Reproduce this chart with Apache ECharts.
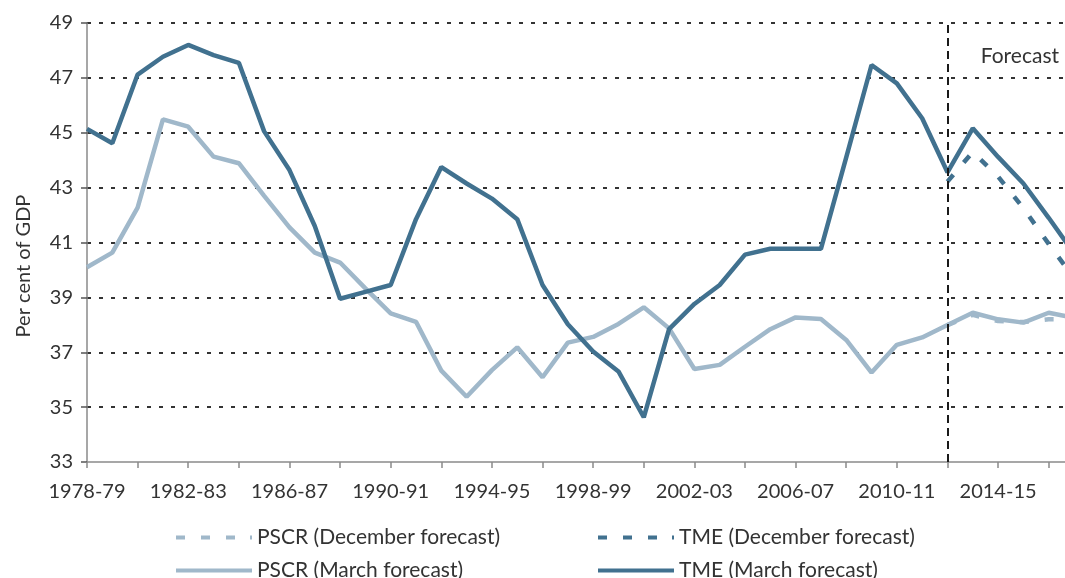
<!DOCTYPE html>
<html>
<head>
<meta charset="utf-8">
<title>Public sector current receipts and total managed expenditure</title>
<script src="https://cdn.jsdelivr.net/npm/echarts@6/dist/echarts.min.js"></script>
<style>
  html, body { margin: 0; padding: 0; background: #fff; overflow: hidden; }
  /* the axis runs one year past the visible right edge */
  #chart { width: 1074px; height: 578px; }
</style>
</head>
<body>
<div id="chart"></div>
<script>
// Financial years on the horizontal axis
const years = [
  '1978-79', '1979-80', '1980-81', '1981-82', '1982-83', '1983-84', '1984-85', '1985-86',
  '1986-87', '1987-88', '1988-89', '1989-90', '1990-91', '1991-92', '1992-93', '1993-94',
  '1994-95', '1995-96', '1996-97', '1997-98', '1998-99', '1999-00', '2000-01', '2001-02',
  '2002-03', '2003-04', '2004-05', '2005-06', '2006-07', '2007-08', '2008-09', '2009-10',
  '2010-11', '2011-12', '2012-13', '2013-14', '2014-15', '2015-16', '2016-17', '2017-18'
];

// Per cent of GDP, March forecast (outturn plus forecast years)
const tmeMarch = [
  45.14, 44.62, 47.12, 47.77, 48.2, 47.83, 47.55, 45.05,
  43.64, 41.6, 38.95, 39.2, 39.45, 41.85, 43.75, 43.15,
  42.6, 41.85, 39.45, 38.02, 37.03, 36.3, 34.63, 37.84,
  38.76, 39.45, 40.56, 40.77, 40.77, 40.77, 44.1, 47.47,
  46.8, 45.53, 43.56, 45.16, 44.12, 43.15, 41.9, 40.6
];
const pscrMarch = [
  40.1, 40.63, 42.27, 45.49, 45.22, 44.13, 43.89, 42.7,
  41.55, 40.63, 40.27, 39.33, 38.42, 38.11, 36.33, 35.38,
  36.35, 37.18, 36.09, 37.35, 37.56, 38.03, 38.64, 37.87,
  36.39, 36.54, 37.2, 37.84, 38.27, 38.21, 37.45, 36.26,
  37.27, 37.54, 37.99, 38.44, 38.2, 38.08, 38.44, 38.26
];

// December forecast, from 2012-13 onwards
const decStart = '2012-13';
const tmeDecember = [43.22, 44.3, 43.4, 42.25, 40.95, 39.7];
const pscrDecember = [37.99, 38.36, 38.14, 38.1, 38.2, 38.2];

// Vertical axis ticks
const yMin = 33, yMax = 49, yStep = 2;

const darkBlue = '#41718f';
const lightBlue = '#a0b8ca';
const textColor = '#333333';
const fontFamily = 'Lato, "Open Sans", sans-serif';

// Legend keys: a dashed bar and a solid bar, 76 x 4
const dashedKey = 'path://M0 0h9v4h-9z M25 0h9v4h-9z M50 0h9v4h-9z M74 0h2v4h-2z';
const solidKey = 'path://M0 0h76v4h-76z';

function padFrom(start, values) {
  const out = years.map(() => null);
  const i0 = years.indexOf(start);
  values.forEach((v, k) => { out[i0 + k] = v; });
  return out;
}

const chart = echarts.init(document.getElementById('chart'), null, { renderer: 'canvas' });

function legendAt(name, icon, left, top) {
  return {
    data: [{ name: name, icon: icon }],
    left: left,
    top: top,
    padding: 0,
    orient: 'horizontal',
    itemWidth: 76,
    itemHeight: 4,
    selectedMode: false,
    textStyle: { color: textColor, fontSize: 21, fontFamily: fontFamily }
  };
}

const option = {
  animation: false,
  backgroundColor: '#ffffff',
  grid: { left: 87, right: 0, top: 23, bottom: 116, containLabel: false },
  legend: [
    legendAt('PSCR (December forecast)', dashedKey, 176, 527),
    legendAt('TME (December forecast)', dashedKey, 598, 527),
    legendAt('PSCR (March forecast)', solidKey, 176, 560),
    legendAt('TME (March forecast)', solidKey, 598, 560)
  ],
  xAxis: {
    type: 'category',
    data: years,
    boundaryGap: false,
    axisLine: { show: true, lineStyle: { color: '#8a8a8a', width: 1.5 } },
    axisTick: { show: true, interval: 1, length: 6, lineStyle: { color: '#8a8a8a', width: 1.5 } },
    axisLabel: {
      interval: 3, margin: 20, color: textColor, fontSize: 20, fontFamily: fontFamily
    },
    splitLine: { show: false }
  },
  yAxis: {
    type: 'value',
    min: yMin,
    max: yMax,
    interval: yStep,
    axisLine: { show: true, lineStyle: { color: '#8a8a8a', width: 1.5 } },
    axisTick: { show: true, length: 6, lineStyle: { color: '#555', width: 1.5 } },
    axisLabel: { margin: 14, color: textColor, fontSize: 20, fontFamily: fontFamily },
    splitLine: {
      show: true,
      showMinLine: false,
      lineStyle: { color: '#333333', width: 2.2, type: [4, 8] }
    }
  },
  graphic: [
    {
      type: 'text',
      x: 1059,
      y: 56,
      style: {
        text: 'Forecast', fill: textColor, fontSize: 21, fontFamily: fontFamily,
        align: 'right', verticalAlign: 'middle'
      }
    },
    {
      type: 'text',
      x: 24,
      y: 266,
      rotation: Math.PI / 2,
      style: {
        text: 'Per cent of GDP', fill: textColor, fontSize: 20, fontFamily: fontFamily,
        align: 'center', verticalAlign: 'middle'
      }
    }
  ],
  series: [
    {
      name: 'PSCR (December forecast)',
      type: 'line',
      data: padFrom(decStart, pscrDecember),
      symbol: 'none',
      color: lightBlue,
      lineStyle: { color: lightBlue, width: 4.5, type: [9, 16] },
      z: 2
    },
    {
      name: 'TME (December forecast)',
      type: 'line',
      data: padFrom(decStart, tmeDecember),
      symbol: 'none',
      color: darkBlue,
      lineStyle: { color: darkBlue, width: 4.5, type: [9, 16] },
      z: 2
    },
    {
      name: 'PSCR (March forecast)',
      type: 'line',
      data: pscrMarch,
      symbol: 'none',
      color: lightBlue,
      lineStyle: { color: lightBlue, width: 4.5 },
      z: 3
    },
    {
      name: 'TME (March forecast)',
      type: 'line',
      data: tmeMarch,
      symbol: 'none',
      color: darkBlue,
      lineStyle: { color: darkBlue, width: 4.5 },
      z: 4,
      markLine: {
        silent: true,
        symbol: 'none',
        label: { show: false },
        lineStyle: { color: '#1a1a1a', width: 2, type: [8, 5] },
        data: [{ xAxis: decStart }]
      }
    }
  ]
};

chart.setOption(option);
</script>
</body>
</html>
